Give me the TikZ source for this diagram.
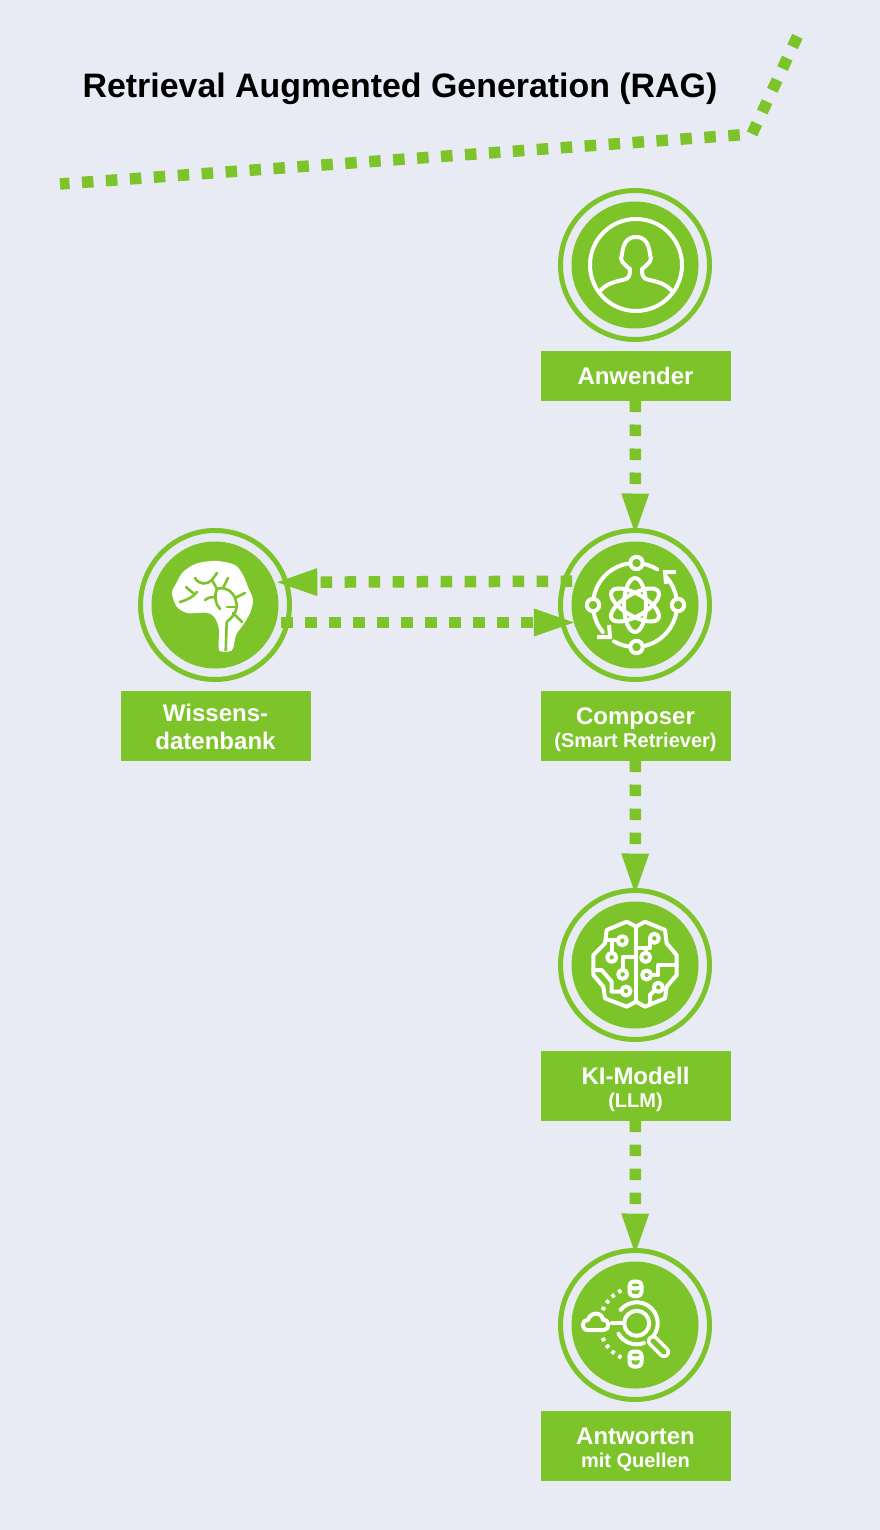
\documentclass[tikz,border=0pt]{standalone}
\usepackage{fontspec}
\setmainfont{Liberation Sans}
\usetikzlibrary{arrows.meta}
\definecolor{ragback}{HTML}{E8EBF3}
\definecolor{raggreen}{HTML}{7DC32A}
\newcommand{\mainline}{\fontsize{24}{28}\selectfont\bfseries}
\newcommand{\subline}{\fontsize{20}{24}\selectfont\bfseries}
\newcommand{\firstrow}{\rule[-6.5pt]{0pt}{33pt}}
\newcommand{\secondrow}{\rule[-6.5pt]{0pt}{22pt}}
\newcommand{\tallrow}{\rule[-6.5pt]{0pt}{27pt}}
\tikzset{
	disc/.style={circle, fill=raggreen, minimum size=127pt, inner sep=0pt, outer sep=0pt},
	ring/.style={circle, draw=raggreen, line width=5pt, minimum size=149pt, inner sep=0pt, outer sep=0pt},
	labelbox/.style={fill=raggreen, text=white, minimum width=190pt, inner sep=0pt, outer sep=0pt, align=center},
	flow/.style={draw=raggreen, line width=11.5pt, dash pattern=on 11.5pt off 12.5pt},
	flowarrow/.style={flow, -{Triangle[length=40pt, width=28pt, fill=raggreen, line width=0pt]}},
	icon/.style={draw=white, line width=4pt, line cap=round, line join=round},
	vein/.style={draw=raggreen, line width=2.6pt, line cap=round, line join=round},
	smallcircle/.style={icon, fill=raggreen}
}
\begin{document}
\begin{tikzpicture}[x=1pt, y=-1pt]
	\fill[ragback] (0,0) rectangle (880,1530);
	\useasboundingbox (0,0) rectangle (880,1530);

	\node[font=\fontsize{33.9}{38}\selectfont\bfseries] (title) at (400,89) {Retrieval Augmented Generation (RAG)};

	\coordinate (linestart) at (60,184);
	\coordinate (linebend) at (752,134);
	\coordinate (lineend) at (799,33);
	\draw[flow, dash phase=2pt] (linestart) -- (linebend) -- (lineend);

	\node[ring] (anwenderring) at (635,265) {};
	\node[ring] (wissenring) at (215,605) {};
	\node[ring] (composerring) at (635,605) {};
	\node[ring] (modellring) at (635,965) {};
	\node[ring] (antwortring) at (635,1325) {};

	\node[disc] (anwender) at (635,265) {};
	\node[disc] (wissen) at (215,605) {};
	\node[disc] (composer) at (635,605) {};
	\node[disc] (modell) at (635,965) {};
	\node[disc] (antwort) at (635,1325) {};

	\node[labelbox, minimum height=50pt] (anwenderbox) at (635.5,375.5) {\mainline Anwender};
	\node[labelbox, minimum height=70pt] (wissenbox) at (215.5,725.5) {\firstrow\mainline Wissens-\\\tallrow\mainline datenbank};
	\node[labelbox, minimum height=70pt] (composerbox) at (635.5,725.5) {\firstrow\mainline Composer\\\secondrow\subline (Smart Retriever)};
	\node[labelbox, minimum height=70pt] (modellbox) at (635.5,1085.5) {\firstrow\mainline KI-Modell\\\secondrow\subline (LLM)};
	\node[labelbox, minimum height=70pt] (antwortbox) at (635.5,1445.5) {\firstrow\mainline Antworten\\\secondrow\subline mit Quellen};

	\draw[flowarrow, shorten >=8pt] (anwenderbox) -- (composer);
	\draw[flowarrow, shorten >=8pt] (composerbox) -- (modell);
	\draw[flowarrow, shorten >=8pt] (modellbox) -- (antwort);
	\draw[flowarrow, shorten <=4pt, shorten >=3pt] (composer.158.8) -- (wissen.21.2);
	\draw[flowarrow, shorten <=5pt] (wissen.-16.5) -- (composer.196.5);

	% Anwender
	\begin{scope}[shift={(636,265)}]
		\draw[icon] (0,0) circle (46);
		\draw[icon] (-35,25) .. controls (-28,17) and (-16,16) .. (-10,14) .. controls (-6,12) and (-6,8) .. (-6,4)
			.. controls (-10,1) and (-15,-3) .. (-15,-7) .. controls (-13,-10) and (-15,-28) .. (0,-28)
			.. controls (15,-28) and (13,-10) .. (15,-7) .. controls (15,-3) and (10,1) .. (6,4)
			.. controls (6,8) and (6,12) .. (10,14) .. controls (16,16) and (28,17) .. (35,25);
	\end{scope}

	% Wissensdatenbank
	\begin{scope}[shift={(215,605)}]
		\fill[white] plot[smooth cycle, tension=0.55] coordinates {(4.3,45) (4,25) (0,13) (-7,8) (-20,8) (-28,8) (-38,2) (-43,-12) (-38,-23) (-33,-32) (-22,-40) (-12,-43) (3,-44) (20,-40) (28,-30) (33,-18) (38,-5) (35,8) (28,20) (21,30) (17,45)};
		\fill[white] (4.3,46) rectangle (17,25);
		\draw[vein, line cap=butt] (10.7,46) -- (11.7,17);
		\draw[vein] (-35,-3) .. controls (-28,-5) and (-22,-8) .. (-18,-13);
		\draw[vein] (-29,-18) -- (-22,-12);
		\draw[vein] (-20,-27) .. controls (-16,-20) and (-8,-20) .. (-3,-25) -- (2,-32);
		\draw[vein] (-3,-25) -- (2,-16);
		\draw[vein] (13,-27) -- (8,-17);
		\draw[vein] (-10,-5) .. controls (-6,-8) and (-3,-8) .. (0,-8);
		\draw[vein] (2,-16) .. controls (-1,-10) and (0,-1) .. (5,4);
		\draw[vein] (2,-16) .. controls (10,-19) and (18,-13) .. (20,-7) .. controls (23,0) and (23,8) .. (11.7,17);
		\draw[vein] (20,-7) -- (30,-12);
		\draw[vein] (12,2) -- (21,2);
		\draw[vein] (18,8) -- (27,17);
	\end{scope}

	% Composer
	\begin{scope}[shift={(635,605)}]
		\draw[icon] (0,0) ++(-100:42) arc[start angle=-100, end angle=-170, radius=42];
		\draw[icon] (0,0) ++(-80:42) arc[start angle=-80, end angle=-58, radius=42];
		\draw[icon] (0,0) ++(-10:42) arc[start angle=-10, end angle=-42, radius=42];
		\draw[icon] (0,0) ++(10:42) arc[start angle=10, end angle=80, radius=42];
		\draw[icon] (0,0) ++(100:42) arc[start angle=100, end angle=120, radius=42];
		\draw[icon] (0,0) ++(170:42) arc[start angle=170, end angle=140, radius=42];
		\draw[icon, line cap=butt, line join=miter] (41,-33) -- (30,-33) -- (31,-21);
		\draw[icon, line cap=butt, line join=miter] (-38,32) -- (-25,32) -- (-26,20);
		\draw[smallcircle] (1.5,-42) circle (6.2);
		\draw[smallcircle] (43,0) circle (6.2);
		\draw[smallcircle] (1.5,42) circle (6.2);
		\draw[smallcircle] (-42,0) circle (6.2);
		\draw[icon] (0,0) ellipse[x radius=11, y radius=27];
		\draw[icon, rotate=60] (0,0) ellipse[x radius=11, y radius=27];
		\draw[icon, rotate=-60] (0,0) ellipse[x radius=11, y radius=27];
	\end{scope}

	% KI-Modell
	\begin{scope}[shift={(635,965)}, x=0.3333pt, y=-0.3333pt]
		\draw[icon] (-25,-130) -- (3,-115) -- (30,-130) -- (90,-105) -- (95,-65) -- (125,-30) -- (125,30) -- (95,65) -- (90,100) -- (30,125) -- (3,110) -- (-25,125) -- (-90,100) -- (-95,65) -- (-125,30) -- (-125,-30) -- (-90,-65) -- (-85,-105) -- cycle;
		\draw[icon] (3,-115) -- (3,110);
		\draw[icon] (-85,-75) -- (-50,-75);
		\draw[icon] (-70,-75) -- (-70,-35);
		\draw[icon] (3,-25) -- (-37,-25) -- (-37,15);
		\draw[icon] (-125,15) -- (-100,15) -- (-70,50) -- (-70,80) -- (-40,80);
		\draw[icon] (45,-80) -- (45,-50) -- (3,-50);
		\draw[icon] (32,-50) -- (32,-35);
		\draw[icon] (48,30) -- (70,30) -- (70,0) -- (125,0);
		\draw[icon] (45,90) -- (45,118);
		\draw[icon] (45,90) -- (60,75);
		\draw[smallcircle] (-38,-73) circle (4.5pt);
		\draw[smallcircle] (-70,-23) circle (4.5pt);
		\draw[smallcircle] (-37,28) circle (4.5pt);
		\draw[smallcircle] (-27,78) circle (4.5pt);
		\draw[smallcircle] (58,-80) circle (4.5pt);
		\draw[smallcircle] (32,-23) circle (4.5pt);
		\draw[smallcircle] (35,30) circle (4.5pt);
		\draw[smallcircle] (70,67) circle (4.5pt);
	\end{scope}

	% Antworten
	\begin{scope}[shift={(635,1325)}]
		\draw[icon] (1.7,-1.7) circle (12.5);
		\draw[icon] (1.7,-1.7) ++(-140:21) arc[start angle=-140, end angle=40, radius=21];
		\draw[icon] (1.7,-1.7) ++(70:21) arc[start angle=70, end angle=150, radius=21];
		\draw[icon] (-23,-2) -- (-11,-2);
		\draw[draw=white, line width=3.6pt, double=raggreen, double distance=5pt, line cap=round] (18,16) -- (29,27);
		\draw[icon] (-47,5) .. controls (-54,5) and (-54,-5) .. (-47,-5) .. controls (-45,-13) and (-33,-14) .. (-32,-5) .. controls (-25,-6) and (-25,5) .. (-31,5) -- cycle;
		\draw[icon, rounded corners=4pt] (-5.5,-43.5) rectangle (6.5,-29);
		\draw[icon] (-5.5,-38) .. controls (-2,-36) and (3,-36) .. (6.5,-38);
		\draw[icon, rounded corners=4pt] (-5.5,26.5) rectangle (6.5,41.5);
		\draw[icon] (-5.5,32) .. controls (-2,34) and (3,34) .. (6.5,32);
		\draw[icon, line cap=butt, dash pattern=on 3.5pt off 4.6pt] (2,-1) ++(-115:37) arc[start angle=-115, end angle=-158, radius=37];
		\draw[icon, line cap=butt, dash pattern=on 3.5pt off 4.6pt] (2,-1) ++(158:37) arc[start angle=158, end angle=115, radius=37];
	\end{scope}
\end{tikzpicture}
\end{document}
